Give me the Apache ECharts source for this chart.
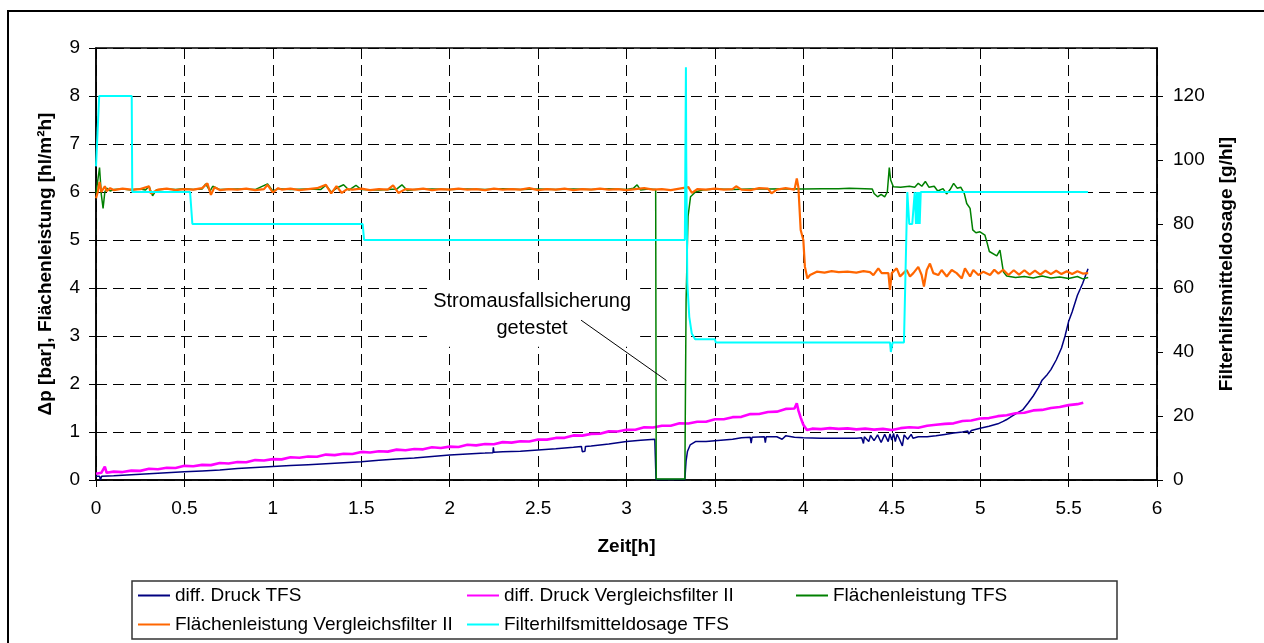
<!DOCTYPE html>
<html>
<head>
<meta charset="utf-8">
<script src="https://cdn.jsdelivr.net/npm/echarts@6/dist/echarts.min.js"></script>
<style>
  html, body { margin: 0; padding: 0; background: #fff; }
  #chart { width: 1264px; height: 643px; }
</style>
</head>
<body>
<div id="chart"></div>
<script>
// Zeit [h] against pressure drop / area throughput (left) and filter-aid dosage (right)

const xTicks = [0, 0.5, 1, 1.5, 2, 2.5, 3, 3.5, 4, 4.5, 5, 5.5, 6];
const leftTicks = [0, 1, 2, 3, 4, 5, 6, 7, 8, 9];
const rightTicks = [0, 20, 40, 60, 80, 100, 120];

const seriesNames = [
  'diff. Druck TFS',
  'diff. Druck Vergleichsfilter II',
  'Flächenleistung TFS',
  'Flächenleistung Vergleichsfilter II',
  'Filterhilfsmitteldosage TFS'
];

// diff. Druck TFS [bar]
const diffDruckTFS = [
  [0,0.08],[0.02,0.08],[0.025,0],[0.032,0.08],[0.1,0.09],[0.2,0.11],[0.3,0.13],[0.4,0.15],
  [0.5,0.17],[0.6,0.19],[0.7,0.21],[0.8,0.24],[0.9,0.26],[1.0,0.28],[1.1,0.3],[1.2,0.32],
  [1.3,0.34],[1.4,0.36],[1.5,0.38],[1.6,0.41],[1.7,0.44],[1.8,0.46],[1.9,0.49],[2.0,0.52],
  [2.1,0.54],[2.2,0.56],[2.245,0.57],[2.247,0.68],[2.25,0.58],[2.3,0.59],[2.4,0.6],[2.5,0.625],
  [2.6,0.65],[2.7,0.68],[2.745,0.7],[2.75,0.59],[2.765,0.6],[2.768,0.7],[2.8,0.71],[2.9,0.75],
  [3.0,0.8],[3.08,0.83],[3.16,0.85],[3.167,0.01],[3.33,0.01],[3.337,0.4],[3.345,0.6],[3.36,0.73],
  [3.39,0.8],[3.45,0.8],[3.5,0.82],[3.6,0.85],[3.65,0.88],[3.7,0.89],[3.705,0.77],[3.71,0.89],
  [3.78,0.9],[3.785,0.78],[3.79,0.9],[3.85,0.9],[3.86,0.94],[3.88,0.85],[3.9,0.92],[3.95,0.89],
  [4.0,0.88],[4.1,0.87],[4.2,0.87],[4.3,0.87],[4.33,0.88],[4.34,0.76],[4.345,0.9],[4.37,0.8],
  [4.38,0.93],[4.4,0.82],[4.42,0.94],[4.44,0.78],[4.46,0.95],[4.48,0.8],[4.49,0.96],[4.5,0.83],
  [4.51,0.97],[4.52,0.8],[4.53,0.95],[4.54,0.88],[4.56,0.71],[4.57,0.94],[4.59,0.85],[4.61,0.95],
  [4.62,0.87],[4.65,0.9],[4.7,0.9],[4.75,0.92],[4.8,0.95],[4.81,0.98],[4.85,0.98],[4.9,1.0],
  [4.93,1.02],[4.935,0.96],[4.95,1.03],[5.0,1.08],[5.05,1.12],[5.1,1.17],[5.13,1.22],[5.15,1.26],
  [5.18,1.33],[5.21,1.4],[5.24,1.46],[5.27,1.6],[5.3,1.75],[5.33,1.93],[5.35,2.08],[5.38,2.2],
  [5.4,2.3],[5.43,2.5],[5.46,2.75],[5.48,3.0],[5.5,3.3],[5.52,3.5],[5.55,3.85],[5.58,4.1],[5.61,4.4]
];

// diff. Druck Vergleichsfilter II [bar]
const diffDruckVF = [
  [0,0.13],[0.03,0.15],[0.05,0.28],[0.06,0.15],[0.1,0.175],[0.15,0.165],[0.2,0.195],[0.25,0.19],
  [0.3,0.235],[0.35,0.225],[0.4,0.255],[0.45,0.25],[0.5,0.295],[0.55,0.285],[0.6,0.315],[0.65,0.31],
  [0.7,0.355],[0.75,0.345],[0.8,0.375],[0.85,0.37],[0.9,0.415],[0.95,0.405],[1.0,0.435],[1.05,0.43],
  [1.1,0.473],[1.15,0.462],[1.2,0.491],[1.25,0.485],[1.3,0.529],[1.35,0.518],[1.4,0.547],[1.45,0.541],
  [1.5,0.585],[1.55,0.572],[1.6,0.599],[1.65,0.591],[1.7,0.633],[1.75,0.62],[1.8,0.647],[1.85,0.639],
  [1.9,0.681],[1.95,0.668],[2.0,0.695],[2.05,0.689],[2.1,0.733],[2.15,0.722],[2.2,0.751],[2.25,0.745],
  [2.3,0.789],[2.35,0.778],[2.4,0.807],[2.45,0.801],[2.5,0.845],[2.55,0.841],[2.6,0.877],[2.65,0.878],
  [2.7,0.929],[2.75,0.925],[2.8,0.961],[2.85,0.962],[2.9,1.013],[2.95,1.009],[3.0,1.045],[3.05,1.046],
  [3.1,1.097],[3.15,1.093],[3.2,1.129],[3.25,1.13],[3.3,1.181],[3.35,1.177],[3.4,1.213],[3.45,1.214],
  [3.5,1.265],[3.55,1.267],[3.6,1.309],[3.65,1.316],[3.7,1.373],[3.75,1.375],[3.8,1.417],[3.85,1.424],
  [3.9,1.481],[3.95,1.49],[3.963,1.6],[3.972,1.45],[3.985,1.3],[4.0,1.15],[4.02,1.04],[4.05,1.07],
  [4.1,1.06],[4.15,1.08],[4.2,1.065],[4.25,1.075],[4.3,1.055],[4.35,1.07],[4.4,1.05],[4.45,1.065],
  [4.5,1.04],[4.55,1.08],[4.6,1.1],[4.65,1.09],[4.7,1.13],[4.75,1.15],[4.8,1.17],[4.85,1.18],
  [4.9,1.23],[4.95,1.24],[5.0,1.28],[5.05,1.29],[5.1,1.33],[5.15,1.35],[5.2,1.39],[5.25,1.4],
  [5.3,1.45],[5.35,1.46],[5.4,1.5],[5.45,1.52],[5.5,1.56],[5.55,1.58],[5.583,1.61]
];

// Flächenleistung TFS [hl/m²h]
const flaechenTFS = [
  [0,5.97],[0.01,6.0],[0.02,6.51],[0.03,5.95],[0.04,5.66],[0.05,6.0],[0.06,6.08],[0.08,6.02],
  [0.1,6.05],[0.15,6.06],[0.2,6.04],[0.22,6.05],[0.25,6.06],[0.28,6.04],[0.3,6.12],[0.32,5.92],
  [0.34,6.04],[0.4,6.06],[0.45,6.05],[0.5,6.07],[0.55,6.05],[0.6,6.06],[0.62,6.17],[0.645,6.02],
  [0.66,6.12],[0.7,6.05],[0.8,6.06],[0.9,6.05],[0.97,6.17],[1.0,6.02],[1.03,6.07],[1.1,6.05],
  [1.2,6.06],[1.27,6.05],[1.3,6.14],[1.33,6.0],[1.37,6.1],[1.4,6.15],[1.43,6.04],[1.47,6.14],
  [1.5,6.05],[1.6,6.04],[1.7,6.06],[1.73,6.15],[1.76,6.03],[1.8,6.05],[1.9,6.06],[2.0,6.05],
  [2.1,6.06],[2.2,6.05],[2.3,6.07],[2.4,6.05],[2.5,6.06],[2.6,6.05],[2.7,6.06],[2.8,6.05],
  [2.9,6.07],[3.0,6.05],[3.04,6.08],[3.06,6.15],[3.08,6.04],[3.12,6.06],[3.165,6.05],[3.168,0.02],
  [3.33,0.02],[3.337,3.75],[3.348,5.49],[3.362,5.9],[3.39,6.0],[3.43,6.04],[3.5,6.06],[3.6,6.05],
  [3.7,6.06],[3.8,6.06],[3.9,6.07],[4.0,6.06],[4.1,6.07],[4.2,6.07],[4.26,6.08],[4.39,6.06],
  [4.4,5.97],[4.42,5.9],[4.44,5.95],[4.46,5.9],[4.475,6.0],[4.486,6.51],[4.494,6.25],[4.509,6.11],
  [4.55,6.1],[4.6,6.12],[4.63,6.1],[4.65,6.18],[4.67,6.12],[4.69,6.22],[4.71,6.1],[4.74,6.12],
  [4.76,6.02],[4.79,6.07],[4.81,5.96],[4.83,6.05],[4.85,6.18],[4.87,6.08],[4.89,6.1],[4.91,5.97],
  [4.924,5.76],[4.943,5.66],[4.958,5.21],[4.976,5.15],[4.999,5.17],[5.027,5.1],[5.04,4.93],[5.052,4.76],
  [5.094,4.67],[5.112,4.79],[5.131,4.34],[5.15,4.25],[5.2,4.22],[5.25,4.24],[5.3,4.21],[5.35,4.25],
  [5.4,4.21],[5.45,4.23],[5.5,4.2],[5.55,4.24],[5.58,4.19],[5.611,4.22]
];

// Flächenleistung Vergleichsfilter II [hl/m²h]
const flaechenVF = [
  [0,5.87],[0.01,6.0],[0.02,6.21],[0.03,6.0],[0.04,5.98],[0.05,6.12],[0.06,6.02],[0.08,6.08],
  [0.1,6.04],[0.15,6.07],[0.2,6.05],[0.25,6.06],[0.3,6.12],[0.31,5.97],[0.35,6.05],[0.4,6.07],
  [0.45,6.04],[0.5,6.06],[0.55,6.05],[0.6,6.08],[0.63,6.18],[0.65,5.94],[0.67,6.1],[0.7,6.04],
  [0.75,6.06],[0.8,6.05],[0.85,6.07],[0.9,6.04],[0.95,6.06],[0.97,6.15],[1.0,5.99],[1.03,6.08],
  [1.05,6.05],[1.1,6.07],[1.15,6.04],[1.2,6.06],[1.25,6.08],[1.3,6.15],[1.33,5.97],[1.36,6.12],
  [1.39,5.98],[1.42,6.06],[1.45,6.05],[1.5,6.07],[1.55,6.04],[1.6,6.06],[1.65,6.05],[1.68,6.14],
  [1.71,5.98],[1.75,6.06],[1.8,6.05],[1.85,6.07],[1.9,6.04],[1.95,6.06],[2.0,6.05],[2.05,6.07],
  [2.1,6.05],[2.15,6.06],[2.2,6.04],[2.25,6.07],[2.3,6.05],[2.35,6.06],[2.4,6.05],[2.45,6.08],
  [2.5,6.04],[2.55,6.06],[2.6,6.05],[2.65,6.07],[2.7,6.04],[2.75,6.06],[2.8,6.05],[2.85,6.07],
  [2.9,6.05],[2.95,6.06],[3.0,6.04],[3.05,6.06],[3.1,6.08],[3.15,6.05],[3.2,6.06],[3.25,6.04],
  [3.3,6.07],[3.35,6.1],[3.37,5.98],[3.4,6.06],[3.45,6.05],[3.5,6.07],[3.55,6.05],[3.6,6.06],
  [3.62,6.12],[3.65,6.05],[3.7,6.04],[3.75,6.08],[3.8,6.07],[3.82,5.97],[3.85,6.05],[3.9,6.08],
  [3.95,6.05],[3.963,6.28],[3.972,6.1],[3.985,5.21],[4.0,5.0],[4.009,4.44],[4.023,4.2],[4.038,4.27],
  [4.076,4.34],[4.12,4.32],[4.16,4.35],[4.2,4.33],[4.25,4.34],[4.3,4.32],[4.34,4.35],[4.377,4.33],
  [4.396,4.27],[4.424,4.41],[4.443,4.31],[4.481,4.31],[4.49,3.96],[4.5,4.31],[4.528,4.41],[4.547,4.24],
  [4.566,4.31],[4.584,4.375],[4.603,4.24],[4.622,4.31],[4.65,4.44],[4.669,4.27],[4.682,4.03],[4.698,4.375],
  [4.716,4.51],[4.735,4.31],[4.763,4.27],[4.782,4.375],[4.811,4.24],[4.839,4.375],[4.867,4.31],[4.896,4.2],
  [4.914,4.41],[4.943,4.24],[4.961,4.375],[4.99,4.27],[5.018,4.34],[5.056,4.27],[5.08,4.38],[5.103,4.3],
  [5.13,4.38],[5.16,4.27],[5.19,4.37],[5.22,4.28],[5.25,4.37],[5.28,4.28],[5.31,4.36],[5.34,4.28],
  [5.37,4.36],[5.4,4.29],[5.43,4.36],[5.46,4.29],[5.49,4.35],[5.52,4.29],[5.55,4.35],[5.58,4.3],[5.611,4.31]
];

// Filterhilfsmitteldosage TFS [g/hl]
const dosageTFS = [
  [0,98],[0.018,120],[0.202,120],[0.205,90],[0.532,90],[0.545,80],[1.508,80],[1.516,75],
  [3.33,75],[3.336,129],[3.338,100],[3.344,61.5],[3.355,51],[3.369,45.8],[3.388,44],[3.5,44],
  [3.505,43],[4.49,43],[4.495,40],[4.5,40.5],[4.505,43],[4.569,43],[4.588,90],[4.596,90],
  [4.599,80],[4.616,80],[4.63,90],[4.637,80],[4.643,90],[4.648,80],[4.654,90],[4.658,80],
  [4.664,90],[5.61,90]
];

// annotation, placed in data coordinates
const noteText = 'Stromausfallsicherung\ngetestet';
const noteCenter = [2.466, 3.43];
const noteBox = [[1.872, 4.146], [3.077, 2.777]];
const noteLine = [[2.743, 3.33], [3.227, 2.07]];

const FONT = 'Liberation Sans, Arial, sans-serif';
const colors = ['#000080', '#FF00FF', '#008000', '#FF6600', '#00FFFF'];
const widths = [1.5, 2.6, 1.5, 2.2, 2];
const datasets = [diffDruckTFS, diffDruckVF, flaechenTFS, flaechenVF, dosageTFS];
const yIndex = [0, 0, 0, 0, 1];

// legend slots (column x, row y)
const legendPos = [[138, 586], [467, 586], [796, 586], [138, 615], [467, 615]];

const chart = echarts.init(document.getElementById('chart'), null, { renderer: 'canvas' });

const dashed = { type: [11, 6], color: '#000', width: 1 };

const option = {
  animation: false,
  backgroundColor: '#fff',
  textStyle: { fontFamily: FONT },
  grid: {
    left: 96, right: 107, top: 48, bottom: 163,
    show: true, borderColor: '#000', borderWidth: 1.5, backgroundColor: '#fff'
  },
  legend: seriesNames.map((n, i) => ({
    data: [n],
    left: legendPos[i][0],
    top: legendPos[i][1],
    padding: 0,
    icon: 'rect',
    itemWidth: 32,
    itemHeight: 2,
    itemGap: 0,
    selectedMode: false,
    textStyle: { fontSize: 19, color: '#000', fontFamily: FONT }
  })),
  xAxis: {
    type: 'value',
    min: xTicks[0], max: xTicks[xTicks.length - 1], interval: 0.5,
    name: 'Zeit[h]',
    nameLocation: 'middle',
    nameGap: 57,
    nameTextStyle: { fontSize: 19, fontWeight: 'bold', color: '#000', fontFamily: FONT },
    axisLine: { lineStyle: { color: '#000', width: 1.5 } },
    axisTick: { show: true, inside: false, length: 7, lineStyle: { color: '#000' } },
    axisLabel: { fontSize: 19, color: '#000', margin: 19, fontFamily: FONT },
    splitLine: { show: true, lineStyle: dashed }
  },
  yAxis: [
    {
      type: 'value',
      min: leftTicks[0], max: leftTicks[leftTicks.length - 1], interval: 1,
      name: 'Δp [bar], Flächenleistung [hl/m²h]',
      nameLocation: 'middle',
      nameGap: 41,
      nameTextStyle: { fontSize: 19, fontWeight: 'bold', color: '#000', fontFamily: FONT },
      axisLine: { show: true, lineStyle: { color: '#000', width: 1.5 } },
      axisTick: { show: true, inside: false, length: 7, lineStyle: { color: '#000' } },
      axisLabel: { fontSize: 19, color: '#000', margin: 16, fontFamily: FONT },
      splitLine: { show: true, lineStyle: dashed }
    },
    {
      type: 'value',
      position: 'right',
      min: 0, max: 135,
      name: 'Filterhilfsmitteldosage [g/hl]',
      nameLocation: 'middle',
      nameGap: 60,
      nameTextStyle: { fontSize: 19, fontWeight: 'bold', color: '#000', fontFamily: FONT },
      axisLine: { show: true, lineStyle: { color: '#000', width: 1.5 } },
      axisTick: { show: true, inside: false, length: 6, customValues: rightTicks, lineStyle: { color: '#000' } },
      axisLabel: { fontSize: 19, color: '#000', margin: 16, customValues: rightTicks, fontFamily: FONT },
      splitLine: { show: false }
    }
  ],
  series: seriesNames.map((n, i) => ({
    name: n,
    type: 'line',
    yAxisIndex: yIndex[i],
    data: datasets[i],
    symbol: 'none',
    showSymbol: false,
    smooth: false,
    lineStyle: { color: colors[i], width: widths[i] },
    itemStyle: { color: colors[i] },
    z: 2 + i
  }))
};

chart.setOption(option);

// annotation and frames, positioned from axis coordinates
const px = p => chart.convertToPixel({ xAxisIndex: 0, yAxisIndex: 0 }, p);
const b0 = px(noteBox[0]);
const b1 = px(noteBox[1]);
const c = px(noteCenter);
const l0 = px(noteLine[0]);
const l1 = px(noteLine[1]);

chart.setOption({
  graphic: [
    {
      type: 'rect', z: 1, silent: true,
      shape: { x: b0[0], y: b0[1], width: b1[0] - b0[0], height: b1[1] - b0[1] },
      style: { fill: '#fff' }
    },
    {
      type: 'text', z: 10, silent: true,
      x: c[0], y: c[1],
      style: {
        text: noteText, fill: '#000', font: '20px ' + FONT,
        align: 'center', verticalAlign: 'middle', lineHeight: 27
      }
    },
    {
      type: 'line', z: 10, silent: true,
      shape: { x1: l0[0], y1: l0[1], x2: l1[0], y2: l1[1] },
      style: { stroke: '#000', lineWidth: 1 }
    },
    {
      type: 'rect', z: 0, silent: true,
      shape: { x: 132, y: 581, width: 985, height: 58 },
      style: { fill: null, stroke: '#333', lineWidth: 1.5 }
    },
    {
      type: 'rect', z: 0, silent: true,
      shape: { x: 8, y: 11, width: 1300, height: 700 },
      style: { fill: null, stroke: '#000', lineWidth: 2 }
    }
  ]
});
</script>
</body>
</html>
